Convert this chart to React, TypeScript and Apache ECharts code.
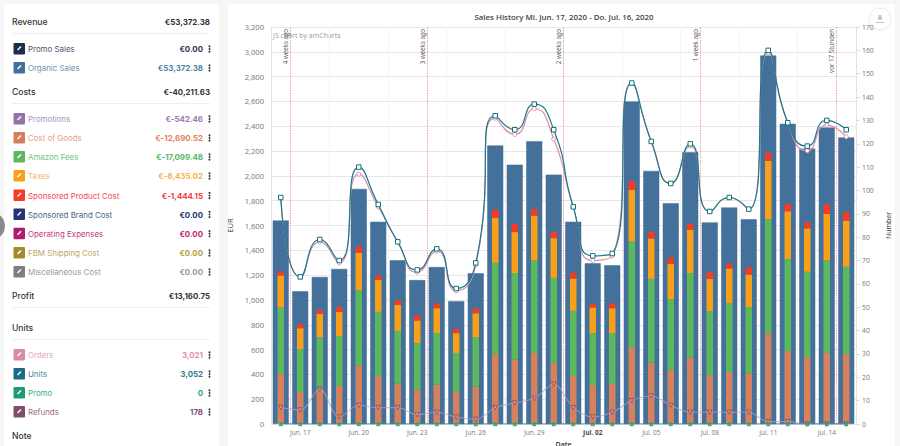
import React, { useEffect, useRef } from "react";
import * as echarts from "echarts";

const categories = ["Jun. 16","Jun. 17","Jun. 18","Jun. 19","Jun. 20","Jun. 21","Jun. 22","Jun. 23","Jun. 24","Jun. 25","Jun. 26","Jun. 27","Jun. 28","Jun. 29","Jun. 30","Jul. 01","Jul. 02","Jul. 03","Jul. 04","Jul. 05","Jul. 06","Jul. 07","Jul. 08","Jul. 09","Jul. 10","Jul. 11","Jul. 12","Jul. 13","Jul. 14","Jul. 15"];
const organicSales = [1640,1070,1185,1250,1895,1630,1320,1160,1265,990,1215,2245,2090,2280,2010,1630,1295,1280,2600,2040,1780,2190,1625,1745,1650,2970,2420,2220,2390,2310];
const costOfGoods = [404,258,288,309,473,387,325,277,317,258,301,565,519,573,490,387,315,323,619,495,436,535,393,420,409,732,587,541,573,565];
const amazonFees = [535,345,412,398,606,517,425,374,415,315,398,734,697,745,688,525,417,409,852,675,570,681,516,556,533,918,742,686,745,702];
const taxes = [258,169,188,197,301,258,210,183,201,159,194,361,331,361,320,261,207,201,415,326,283,350,261,278,263,470,386,350,375,372];
const sponsoredProduct = [32,32,32,40,51,35,38,40,38,35,38,65,64,52,49,46,29,38,72,53,53,48,54,37,57,67,60,50,77,70];
const unitsLine = [97,63,79,70,110,94,78,66,75,58,69,132,126,137,126,93,72,73,146,121,103,120,91,97,92,160,129,119,130,126];
const ordersLine = [97,63,78,69,107,93,78,65,74,57,68,131,124,135,122,93,70,72,146,121,103,119,91,97,92,159,129,117,128,123];
const promoLine = [0,0,0,0,0,0,0,0,0,0,0,0,0,0,0,0,0,0,0,0,0,0,0,0,0,0,0,0,0,0];
const refundsLine = [7,6,15,3,8,7,7,4,5,3,2,7,9,11,17,7,3,5,10,12,8,5,5,5,5,1,1,0,0,0];
const leftTicks = { max: 3200, step: 200 };
const rightTicks = { max: 170, step: 10 };
const weekMarks: [number, string][] = [[1,"4 weeks ago"],[8,"3 weeks ago"],[15,"2 weeks ago"],[22,"1 week ago"],[29,"vor 17 Stunden"]];

const headers: [string, string, number, number | null][] = [
  ["Revenue","€53,372.38",22,33],
  ["Costs","€-40,211.63",92,103],
  ["Profit","€13,160.75",296,307],
  ["Units","",327.5,339],
  ["Note","",436,null],
];
const rows: [string, string, number, string, string, string][] = [
  ["Promo Sales","€0.00",49,"#1f2d4d","#4a5670","#2a3550"],
  ["Organic Sales","€53,372.38",68,"#44719b","#6b97b4","#4f83a3"],
  ["Promotions","€-542.46",119,"#9473ad","#ab90c2","#9a7bb3"],
  ["Cost of Goods","€-12,690.52",138,"#d0815b","#e5a08a","#e5805f"],
  ["Amazon Fees","€-17,099.48",157,"#5cb85c","#72c47a","#58b866"],
  ["Taxes","€-8,435.02",176,"#f9a01b","#f9b56b","#fbb04d"],
  ["Sponsored Product Cost","€-1,444.15",195.5,"#f53b21","#f4484e","#f23b3b"],
  ["Sponsored Brand Cost","€0.00",214.5,"#24356f","#4c5e88","#1f2f70"],
  ["Operating Expenses","€0.00",233.7,"#b01c6c","#c4387f","#bb1f70"],
  ["FBM Shipping Cost","€0.00",253,"#a08c2d","#b9a85c","#b4a23f"],
  ["Miscellaneous Cost","€0.00",272,"#7e7e7e","#9a9a9a","#999999"],
  ["Orders","3,021",355,"#d88aa8","#e5a6be","#de8fb0"],
  ["Units","3,052",374,"#1c6b8a","#3f8ba0","#2f7c90"],
  ["Promo","0",393,"#1e9c78","#38ae8a","#2aa77f"],
  ["Refunds","178",412,"#7d4f6a","#9a6d88","#854f6f"],
];

const sans = "Inter, 'Noto Sans', sans-serif";
const chartFont = "'Open Sans', sans-serif";

function sidebar(): any[] {
  const els: any[] = [
    { type: "rect", silent: true, z: -10, shape: { x: 0, y: 0, width: 900, height: 446 }, style: { fill: "#f6f6f6" } },
    { type: "rect", silent: true, z: -9, shape: { x: 4, y: 4, width: 215, height: 442 }, style: { fill: "#ffffff" } },
    { type: "rect", silent: true, z: -9, shape: { x: 228, y: 4, width: 667, height: 442 }, style: { fill: "#ffffff" } },
    { type: "circle", silent: true, z: 5, shape: { cx: -9, cy: 226, r: 14 }, style: { fill: "#8a8a8a" } },
  ];
  headers.forEach(([label, value, y, rule]) => {
    els.push({ type: "text", silent: true, style: { x: 12, y, text: label, font: `500 8.6px ${sans}`, fill: "#333333", textVerticalAlign: "middle" } });
    if (value) els.push({ type: "text", silent: true, style: { x: 210, y, text: value, font: `700 7.9px ${sans}`, fill: "#333333", textAlign: "right", textVerticalAlign: "middle" } });
    if (rule !== null) els.push({ type: "line", silent: true, shape: { x1: 12, y1: rule + 0.5, x2: 210, y2: rule + 0.5 }, style: { stroke: "#eeeeee", lineWidth: 1 } });
  });
  rows.forEach(([label, value, y, icon, labelColor, valueColor]) => {
    els.push({ type: "rect", silent: true, shape: { x: 13.5, y: y - 6, width: 11.5, height: 11.5, r: 1 }, style: { fill: icon } });
    els.push({ type: "line", silent: true, shape: { x1: 17.5, y1: y + 1, x2: 21, y2: y - 2.5 }, style: { stroke: "#ffffff", lineWidth: 1.5 } });
    els.push({ type: "text", silent: true, style: { x: 28, y, text: label, font: `400 7.9px ${sans}`, fill: labelColor, textVerticalAlign: "middle" } });
    els.push({ type: "text", silent: true, style: { x: 203, y, text: value, font: `700 7.9px ${sans}`, fill: valueColor, textAlign: "right", textVerticalAlign: "middle" } });
    [-2.6, 0, 2.6].forEach((d) => els.push({ type: "circle", silent: true, shape: { cx: 209.5, cy: y + d, r: 0.95 }, style: { fill: "#333333" } }));
  });
  // export button and chart credit
  els.push({ type: "circle", silent: true, shape: { cx: 880, cy: 19, r: 10.5 }, style: { fill: "#ffffff", stroke: "#efefef", lineWidth: 1, shadowBlur: 3, shadowColor: "rgba(0,0,0,0.08)" } });
  els.push({ type: "polygon", silent: true, shape: { points: [[878.5,15],[881.5,15],[881.5,18],[883,18],[880,20.5],[877,18],[878.5,18]] }, style: { fill: "#c4c4c4" } });
  els.push({ type: "line", silent: true, shape: { x1: 876, y1: 22.5, x2: 884, y2: 22.5 }, style: { stroke: "#c4c4c4", lineWidth: 1 } });
  els.push({ type: "text", silent: true, style: { x: 273, y: 35, text: "JS chart by amCharts", font: `400 7px ${chartFont}`, fill: "#9a9a9a", textVerticalAlign: "middle" } });
  return els;
}

const inner = (name: string, data: number[], color: string) => ({
  name, type: "bar", xAxisIndex: 2, yAxisIndex: 0, stack: "costs", barWidth: 6.5, data, z: 3,
  itemStyle: { color }, silent: true,
});

export default function App() {
  const ref = useRef<HTMLDivElement>(null);
  useEffect(() => {
    document.body.style.margin = "0";
    const chart = echarts.init(ref.current!, undefined, { renderer: "svg" });
    chart.setOption({
      animation: false,
      textStyle: { fontFamily: chartFont },
      title: {
        text: "Sales History Mi. Jun. 17, 2020 - Do. Jul. 16, 2020",
        left: 559, top: 8, textAlign: "center",
        textStyle: { fontFamily: chartFont, fontSize: 7.9, fontWeight: 600, color: "#444444" },
      },
      graphic: sidebar(),
      grid: { left: 271, top: 27, width: 585, height: 397, outerBoundsMode: "none" },
      xAxis: [
        {
          type: "category", data: categories, boundaryGap: true,
          name: "Date", nameLocation: "middle", nameGap: 17, nameMoveOverlap: false,
          nameTextStyle: { fontSize: 7, fontWeight: 600, color: "#333333" },
          axisLine: { show: false }, axisTick: { show: false },
          axisLabel: {
            interval: (i: number) => i % 3 === 1, fontSize: 6.5, color: "#777777", margin: 5,
            formatter: (v: string) => (v === "Jul. 02" ? `{b|${v}}` : v),
            rich: { b: { fontSize: 6.5, fontWeight: 700, color: "#444444" } },
          },
        },
        {
          type: "value", min: 0, max: 30, interval: 3, position: "bottom",
          axisLine: { show: false }, axisTick: { show: false }, axisLabel: { show: false },
          splitLine: { show: true, lineStyle: { color: "#f4f4f4", width: 1 } },
        },
        { type: "category", data: categories, show: false, boundaryGap: true },
      ],
      yAxis: [
        {
          type: "value", min: 0, max: leftTicks.max, interval: leftTicks.step, position: "left",
          name: "EUR", nameLocation: "middle", nameGap: 18, nameRotate: 90,
          nameTextStyle: { fontSize: 7.5, fontWeight: 500, color: "#333333" },
          axisLine: { show: true, lineStyle: { color: "#e2e2e2" } },
          axisTick: { show: false },
          axisLabel: { fontSize: 7.6, color: "#777777", margin: 7, formatter: (v: number) => v.toLocaleString("en-US") },
          splitLine: { show: true, lineStyle: { color: "#e6e6e6", width: 1.2 } },
        },
        {
          type: "value", min: 0, max: rightTicks.max, interval: rightTicks.step, position: "right",
          name: "Number", nameLocation: "middle", nameGap: 19, nameRotate: 90,
          nameTextStyle: { fontSize: 7, fontWeight: 500, color: "#333333" },
          axisLine: { show: true, lineStyle: { color: "#e2e2e2" } },
          axisTick: { show: true, length: 4, lineStyle: { color: "#dddddd" } },
          axisLabel: { fontSize: 6.8, color: "#777777", margin: 6 },
          splitLine: { show: false },
        },
      ],
      series: [
        {
          name: "Week marks", type: "line", xAxisIndex: 1, yAxisIndex: 0, data: [], silent: true,
          markLine: {
            silent: true, symbol: "none", z: 2,
            lineStyle: { color: "#f4a3b6", type: [1.5, 1], width: 1 },
            data: weekMarks.map(([x, label]) => ({
              xAxis: x,
              label: { show: true, formatter: label, position: "insideEndTop", distance: 2, fontSize: 6.2, color: "#555555", padding: 0 },
            })),
          },
        },
        {
          name: "Organic Sales", type: "bar", xAxisIndex: 0, yAxisIndex: 0, barWidth: 16, data: organicSales, z: 2, silent: true,
          itemStyle: { color: "#44719b", borderColor: "#3f6c8f", borderWidth: 0.5 },
        },
        inner("Cost of Goods", costOfGoods, "#d5825c"),
        inner("Amazon Fees", amazonFees, "#5cb85c"),
        inner("Taxes", taxes, "#f9a01b"),
        inner("Sponsored Product Cost", sponsoredProduct, "#f53b21"),
        {
          name: "Refunds", type: "line", xAxisIndex: 0, yAxisIndex: 1, data: refundsLine, z: 6, silent: true,
          smooth: 0.35, symbol: "triangle", symbolRotate: 180, symbolSize: 4.5,
          lineStyle: { color: "#c39ac0", width: 1.1, opacity: 0.7 },
          itemStyle: { color: "rgba(255,255,255,0.15)", borderColor: "#7d4f6a", borderWidth: 0.8 },
        },
        {
          name: "Orders", type: "line", xAxisIndex: 0, yAxisIndex: 1, data: ordersLine, z: 7, silent: true,
          smooth: 0.6, symbol: "circle", symbolSize: 4,
          lineStyle: { color: "#dd8db0", width: 1.2 },
          itemStyle: { color: "#ffffff", borderColor: "#dd8db0", borderWidth: 1 },
        },
        {
          name: "Units", type: "line", xAxisIndex: 0, yAxisIndex: 1, data: unitsLine, z: 8, silent: true,
          smooth: 0.6, symbol: "rect", symbolSize: 4.5,
          lineStyle: { color: "#1a7a85", width: 1.2 },
          itemStyle: { color: "#ffffff", borderColor: "#17707d", borderWidth: 1 },
        },
        {
          name: "Promo", type: "line", xAxisIndex: 0, yAxisIndex: 1, data: promoLine, z: 9, silent: true,
          symbol: "triangle", symbolSize: 3.5,
          lineStyle: { color: "#1c7a78", width: 1 },
          itemStyle: { color: "#49b890", borderColor: "#1e9c78", borderWidth: 0.8 },
        },
      ],
    });
    return () => chart.dispose();
  }, []);
  return <div ref={ref} style={{ width: 900, height: 446 }} />;
}
